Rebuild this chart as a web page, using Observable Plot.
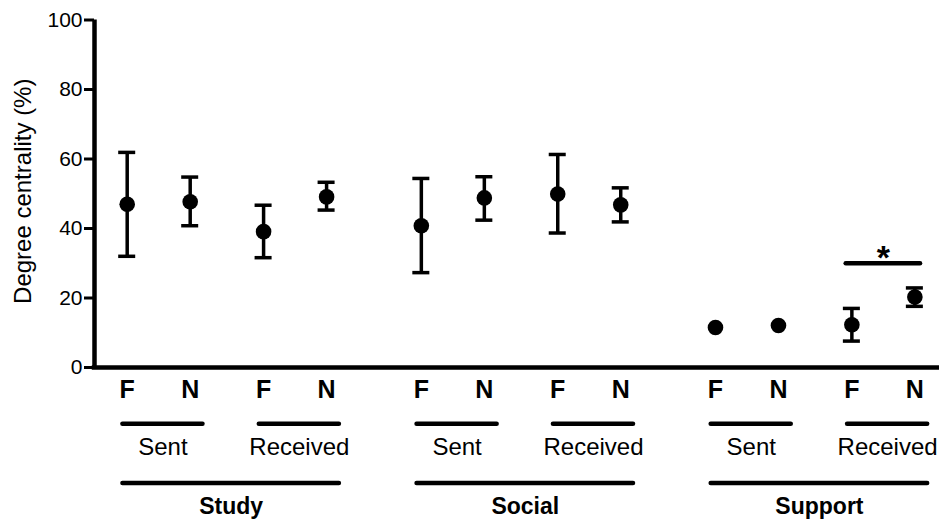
<!DOCTYPE html>
<html>
<head>
<meta charset="utf-8">
<script src="https://cdn.jsdelivr.net/npm/d3@7"></script>
<script src="https://cdn.jsdelivr.net/npm/@observablehq/plot@0.6"></script>
<style>
  html, body { margin: 0; padding: 0; background: #fff; }
  #chart svg { display: block; }
</style>
</head>
<body>
<div id="chart"></div>
<script>
// ---- data ----
const categories = ["Study", "Social", "Support"];
const directions = ["Sent", "Received"];
const groups = ["F", "N"];
// order: category > direction > group
const means = [47.0, 47.7, 39.1, 49.1, 40.8, 48.8, 49.9, 46.8, 11.5, 12.1, 12.3, 20.3];
const upper = [61.9, 54.8, 46.7, 53.3, 54.4, 54.9, 61.3, 51.7, null, null, 17.0, 22.9];
const lower = [32.0, 40.8, 31.6, 45.3, 27.3, 42.4, 38.7, 41.9, null, null, 7.6, 17.6];
const yTicks = [0, 20, 40, 60, 80, 100];
const significance = {category: "Support", direction: "Received", level: 30, label: "*"};
const yLabel = "Degree centrality (%)";

// ---- layout (in x-scale units: one unit = spacing F→N) ----
const catStep = 4.669, dirStep = 2.165, grpStep = 1;
const xDomain = [-0.519, 12.894];
const capHalf = 0.135;

const rows = [];
categories.forEach((c, ci) => directions.forEach((d, di) => groups.forEach((g, gi) => {
  const i = ci * 4 + di * 2 + gi;
  rows.push({category: c, direction: d, group: g, pos: ci * catStep + di * dirStep + gi * grpStep,
             mean: means[i], hi: upper[i], lo: lower[i]});
})));
const withErr = rows.filter(r => r.hi != null && r.lo != null);

const pairs = [];
categories.forEach(c => directions.forEach(d => {
  const sel = rows.filter(r => r.category === c && r.direction === d);
  pairs.push({category: c, direction: d, x1: sel[0].pos - 0.068, x2: sel[1].pos + 0.203});
}));
const cats = categories.map(c => {
  const sel = rows.filter(r => r.category === c);
  return {category: c, x1: sel[0].pos - 0.068, x2: sel[sel.length - 1].pos + 0.203};
});
const sigRows = rows.filter(r => r.category === significance.category && r.direction === significance.direction);
const sig = [{x1: sigRows[0].pos - 0.09, x2: sigRows[1].pos + 0.09, xm: (sigRows[0].pos + sigRows[1].pos) / 2,
              level: significance.level, label: significance.label}];

const font = "'Liberation Sans', Arial, Helvetica, sans-serif";

const chart = Plot.plot({
  width: 939,
  height: 522,
  marginLeft: 94,
  marginRight: 0,
  marginTop: 19.5,
  marginBottom: 155,
  style: {fontFamily: font, background: "#fff", color: "#000", overflow: "visible"},
  x: {domain: xDomain, axis: null},
  y: {domain: [0, 100], axis: null},
  marks: [
    // y axis ticks
    Plot.axisY(yTicks, {tickSize: 10, strokeWidth: 3, label: null, tickFormat: () => ""}),
    // y tick labels
    Plot.text(yTicks, {y: d => d, text: d => String(d), frameAnchor: "left", textAnchor: "end", dx: -12, fontSize: 21}),
    // axis lines
    Plot.ruleX([xDomain[0]], {y1: 0, y2: 100, strokeWidth: 4.5}),
    Plot.ruleY([0], {x1: xDomain[0], x2: xDomain[1], strokeWidth: 4.5, strokeLinecap: "square"}),
    // y label
    Plot.text([yLabel], {text: d => d, frameAnchor: "left", textAnchor: "middle", dx: -81, dy: -2.5, rotate: -90, lineAnchor: "top", fontSize: 24}),
    // error bars
    Plot.ruleX(withErr, {x: "pos", y1: "lo", y2: "hi", strokeWidth: 3.5}),
    Plot.ruleY(withErr, {y: "hi", x1: d => d.pos - capHalf, x2: d => d.pos + capHalf, strokeWidth: 3.5}),
    Plot.ruleY(withErr, {y: "lo", x1: d => d.pos - capHalf, x2: d => d.pos + capHalf, strokeWidth: 3.5}),
    // means
    Plot.dot(rows, {x: "pos", y: "mean", r: 7.8, fill: "#000", stroke: null}),
    // significance
    Plot.ruleY(sig, {y: "level", x1: "x1", x2: "x2", strokeWidth: 4.5, strokeLinecap: "round"}),
    Plot.text(sig, {x: "xm", y: "level", text: "label", lineAnchor: "bottom", dy: 6, fontSize: 34, fontWeight: "bold"}),
    // group labels under axis
    Plot.text(rows, {x: "pos", text: "group", frameAnchor: "bottom", lineAnchor: "top", dy: 13, fontSize: 25, fontWeight: "bold"}),
    // direction brackets
    Plot.ruleY(pairs, {y: () => 0, x1: "x1", x2: "x2", dy: 56.3, strokeWidth: 4.5, strokeLinecap: "round"}),
    Plot.text(pairs, {x: d => (d.x1 + d.x2) / 2, text: "direction", frameAnchor: "bottom", lineAnchor: "top", dy: 70, fontSize: 24}),
    // category brackets
    Plot.ruleY(cats, {y: () => 0, x1: "x1", x2: "x2", dy: 115.5, strokeWidth: 4.5, strokeLinecap: "round"}),
    Plot.text(cats, {x: d => (d.x1 + d.x2) / 2, text: "category", frameAnchor: "bottom", lineAnchor: "top", dy: 130.5, fontSize: 23, fontWeight: "bold"})
  ]
});
document.getElementById("chart").appendChild(chart);
</script>
</body>
</html>
